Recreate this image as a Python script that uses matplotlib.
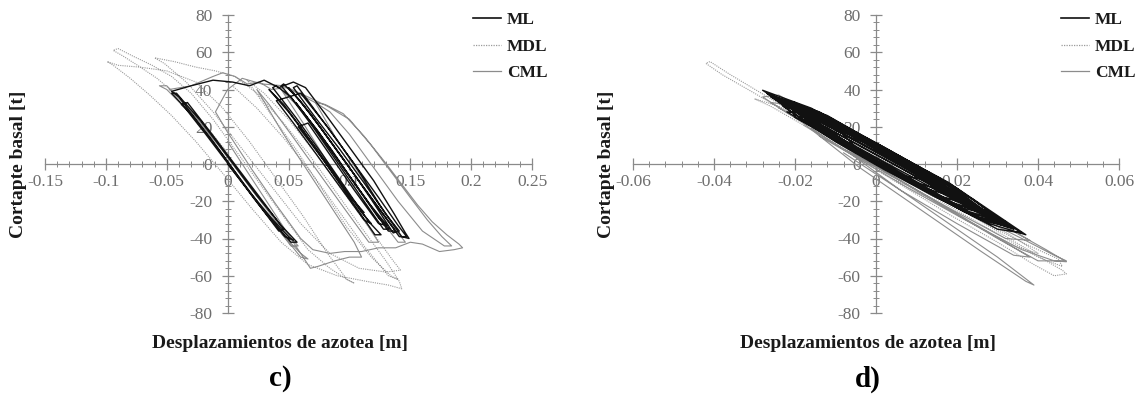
import numpy as np
import matplotlib
matplotlib.use("Agg")
import matplotlib.pyplot as plt
from matplotlib.ticker import MultipleLocator, FuncFormatter
from matplotlib.lines import Line2D

plt.rcParams['font.family'] = ['Liberation Serif', 'DejaVu Serif']
plt.rcParams['axes.unicode_minus'] = False

# ── Panel c) : top displacement [m] vs base shear [t] ─────────────────────────
ML_C = [
    (0.000, 0), (0.018, -15), (0.036, -29), (0.050, -39), (0.054, -41),
    (0.047, -39), (0.026, -22), (0.004, -3), (-0.018, 16), (-0.036, 31), (-0.046, 38),
    (-0.042, 38), (-0.022, 23), (0.000, 4), (0.024, -17), (0.044, -33), (0.057, -42),
    (0.052, -42), (0.032, -27), (0.010, -8), (-0.012, 12), (-0.030, 27), (-0.038, 32),
    (-0.033, 33), (-0.014, 17), (0.008, -2), (0.030, -21), (0.046, -35),
    (0.042, -36), (0.020, -17), (-0.004, 5), (-0.024, 22), (-0.040, 36), (-0.046, 39),
    (-0.030, 42), (-0.012, 45), (0.004, 44), (0.018, 42), (0.030, 45), (0.042, 41),
    (0.054, 44), (0.064, 41),
    (0.080, 27), (0.100, 9), (0.120, -9), (0.137, -27), (0.146, -37), (0.149, -40),
    (0.143, -39), (0.125, -22), (0.104, 0), (0.084, 18), (0.066, 34), (0.057, 42),
    (0.054, 41), (0.072, 25), (0.092, 8), (0.113, -11), (0.130, -27), (0.141, -36),
    (0.136, -37), (0.118, -19), (0.097, 1), (0.077, 19), (0.058, 35), (0.046, 43),
    (0.044, 42), (0.063, 27), (0.085, 8), (0.106, -12), (0.124, -29), (0.133, -35),
    (0.128, -35), (0.110, -18), (0.090, 1), (0.070, 20), (0.052, 36), (0.040, 42),
    (0.037, 41), (0.056, 25), (0.078, 5), (0.098, -14), (0.116, -31), (0.126, -38),
    (0.121, -38), (0.102, -20), (0.082, -1), (0.062, 18), (0.046, 32), (0.034, 40),
    (0.050, 28), (0.072, 9), (0.094, -11), (0.110, -26), (0.118, -32),
    (0.112, -30), (0.092, -12), (0.072, 6), (0.054, 22), (0.040, 34),
    (0.060, 38), (0.082, 20), (0.104, 0), (0.124, -18), (0.140, -33), (0.147, -39),
    (0.141, -39), (0.121, -21), (0.100, -2), (0.079, 17), (0.062, 32), (0.050, 41),
    (0.068, 27), (0.090, 7), (0.110, -11), (0.128, -27), (0.138, -36),
    (0.132, -36), (0.114, -19), (0.093, 0), (0.072, 19), (0.056, 33),
    (0.075, 17), (0.096, -3), (0.116, -21), (0.131, -33),
    (0.124, -32), (0.104, -14), (0.084, 5), (0.066, 22),
    (0.058, 20), (0.080, 1), (0.100, -17), (0.112, -26),
]

CML_C = [
    (0.000, 0), (0.022, -19), (0.044, -37), (0.060, -48), (0.066, -51),
    (0.060, -50), (0.038, -32), (0.014, -11), (-0.010, 10), (-0.032, 28), (-0.050, 40), (-0.056, 42),
    (-0.050, 42), (-0.028, 27), (-0.004, 7), (0.020, -14), (0.040, -31), (0.058, -44),
    (0.052, -44), (0.030, -25), (0.006, -4), (-0.018, 18), (-0.040, 36), (-0.048, 40),
    (-0.030, 42), (-0.012, 47), (-0.004, 49), (0.006, 47), (0.016, 43), (0.026, 44),
    (0.036, 40), (0.048, 41), (0.060, 37), (0.072, 33), (0.080, 32),
    (0.095, 27), (0.112, 15), (0.128, 2), (0.142, -10), (0.156, -22), (0.168, -31),
    (0.180, -38), (0.190, -43), (0.193, -45),
    (0.186, -46), (0.174, -47), (0.160, -43), (0.150, -42), (0.138, -45), (0.124, -45),
    (0.110, -47), (0.096, -47), (0.084, -48), (0.070, -46),
    (0.060, -40), (0.040, -22), (0.020, -3), (0.000, 17), (-0.010, 28),
    (0.000, 40), (0.012, 46), (0.028, 43), (0.046, 42), (0.066, 36), (0.082, 31),
    (0.100, 24), (0.118, 10), (0.134, -4), (0.150, -18), (0.164, -30), (0.176, -39), (0.184, -44),
    (0.178, -44), (0.160, -36), (0.140, -20), (0.120, -2), (0.100, 16), (0.084, 28), (0.072, 33),
    (0.088, 15), (0.108, -5), (0.126, -23), (0.140, -37), (0.146, -42),
    (0.140, -42), (0.120, -25), (0.098, -5), (0.076, 15), (0.056, 32), (0.044, 40),
    (0.062, 22), (0.082, 1), (0.100, -18), (0.114, -32), (0.124, -42),
    (0.116, -42), (0.096, -24), (0.074, -4), (0.052, 16), (0.034, 32), (0.024, 40),
    (0.044, 18), (0.066, -4), (0.088, -26), (0.104, -42), (0.110, -50),
    (0.100, -50), (0.088, -52), (0.074, -55), (0.068, -56),
    (0.060, -48), (0.040, -28), (0.018, -6), (0.000, 12),
]

MDL_C = [
    (0.000, 6), (-0.020, 22), (-0.040, 36), (-0.058, 46), (-0.074, 53), (-0.086, 58),
    (-0.094, 61), (-0.090, 62),
    (-0.078, 58), (-0.062, 53), (-0.046, 47), (-0.030, 38), (-0.012, 24), (0.008, 6),
    (0.028, -12), (0.048, -30), (0.066, -46), (0.084, -56), (0.098, -62), (0.104, -64),
    (0.098, -62), (0.082, -48), (0.062, -28), (0.040, -8), (0.018, 12), (-0.004, 30),
    (-0.026, 44), (-0.050, 50), (-0.072, 52), (-0.090, 53), (-0.099, 55),
    (-0.094, 53), (-0.080, 46), (-0.064, 37), (-0.046, 26), (-0.026, 12), (-0.004, -5),
    (0.020, -24), (0.044, -42), (0.066, -54), (0.090, -60), (0.114, -63), (0.132, -65), (0.143, -67),
    (0.141, -63), (0.130, -52), (0.112, -36), (0.090, -16), (0.068, 4), (0.046, 22),
    (0.024, 38), (0.006, 47), (-0.010, 50), (-0.026, 52), (-0.044, 55), (-0.060, 57),
    (-0.052, 54), (-0.034, 44), (-0.012, 28), (0.012, 8), (0.036, -12), (0.060, -32),
    (0.084, -48), (0.108, -56), (0.130, -58), (0.142, -57),
    (0.136, -52), (0.116, -34), (0.094, -14), (0.072, 6), (0.050, 24), (0.030, 38), (0.016, 45),
    (0.034, 28), (0.056, 8), (0.078, -14), (0.098, -34), (0.118, -50), (0.134, -60), (0.140, -62),
    (0.132, -60), (0.112, -44), (0.090, -24), (0.068, -4), (0.046, 14), (0.024, 30), (0.004, 42),
]

# ── Panel d) ──────────────────────────────────────────────────────────────────
ML_D = [
    (-0.010, 18), (-0.003, 14), (0.005, 4), (0.012, -8.4), (0.006, -6), (-0.002, 4),
    (-0.018, 27.6), (-0.008, 20), (0.004, 6), (0.014, -6), (0.020, -18), (0.012, -13),
    (0.002, -1), (-0.010, 13),
    (-0.024, 34.8), (-0.012, 25), (0.002, 9), (0.016, -8), (0.028, -27.6), (0.018, -20),
    (0.004, -4), (-0.010, 14),
    (-0.028, 39.6), (-0.016, 30), (0.000, 11), (0.018, -10), (0.034, -34.8), (0.024, -28),
    (0.008, -8), (-0.008, 11), (-0.020, 25),
    (-0.021, 31.5), (-0.010, 22), (0.004, 5), (0.018, -11), (0.030, -30), (0.022, -25),
    (0.008, -9), (-0.006, 8), (-0.015, 20),
    (-0.014, 23), (-0.004, 14), (0.008, -1), (0.022, -20), (0.016, -18), (0.004, -3), (-0.008, 12),
    (-0.026, 37), (-0.014, 28), (0.002, 9), (0.020, -13), (0.037, -38), (0.028, -32),
    (0.012, -12), (-0.004, 8), (-0.016, 22),
    (-0.022, 32.5), (-0.010, 23), (0.006, 3), (0.026, -25), (0.018, -21), (0.004, -4), (-0.012, 16),
    (-0.016, 25.5), (-0.006, 17), (0.010, -2), (0.024, -19), (0.032, -32.5), (0.024, -28),
    (0.010, -11), (-0.004, 7),
    (-0.008, 15.5), (0.002, 8), (0.012, -5), (0.018, -15.5), (0.010, -10), (0.000, 2),
    (-0.025, 36), (-0.012, 26), (0.004, 6), (0.016, -8), (0.024, -22.8), (0.014, -16),
    (0.000, 1), (-0.012, 17),
    (-0.012, 20.4), (0.000, 10), (0.014, -7), (0.030, -30), (0.022, -26), (0.006, -7),
    (-0.006, 9), (-0.018, 24),
    (-0.020, 30), (-0.010, 21), (0.002, 7), (0.014, -8), (0.026, -24), (0.033, -34),
    (0.026, -30), (0.014, -17), (0.002, -3), (-0.010, 12), (-0.019, 25),
    (-0.027, 38), (-0.018, 30), (-0.006, 16), (0.006, 1), (0.018, -14), (0.030, -29),
    (0.036, -37), (0.030, -35), (0.018, -21), (0.006, -6), (-0.006, 9), (-0.018, 24), (-0.023, 31),
    (-0.015, 26), (-0.004, 13), (0.008, -2), (0.020, -17), (0.031, -31), (0.024, -28),
    (0.012, -14), (0.000, 0), (-0.012, 15), (-0.022, 28),
    (-0.017, 27), (-0.006, 15), (0.006, 0), (0.018, -15), (0.028, -27), (0.020, -23),
    (0.008, -8), (-0.004, 6), (-0.014, 19),
    (-0.022, 32), (-0.011, 19.5), (0.000, 6.5), (0.011, -7), (0.022, -20.5), (0.030, -29.5),
    (0.022, -21.5), (0.011, -8), (0.000, 5), (-0.011, 18), (-0.022, 31),
    (-0.026, 37.5), (-0.016, 25), (-0.005, 12.5), (0.006, -0.5), (0.016, -13.5),
    (0.026, -25.5), (0.034, -35), (0.026, -26.5), (0.016, -14.5), (0.006, -2),
    (-0.005, 11), (-0.016, 24), (-0.026, 36),
    (-0.019, 29.5), (-0.008, 16), (0.003, 3), (0.014, -10), (0.025, -23), (0.032, -31),
    (0.025, -26), (0.014, -13), (0.003, 0), (-0.008, 13), (-0.019, 27),
    (-0.024, 35), (-0.020, 33), (-0.010, 22), (0.000, 9),
]

CML_D = [
    (0.000, 3), (0.012, -12), (0.024, -27), (0.036, -40), (0.044, -49), (0.047, -52),
    (0.040, -52), (0.030, -40), (0.016, -22), (0.002, -4), (-0.010, 12), (-0.020, 25), (-0.026, 33),
    (-0.022, 32), (-0.010, 18), (0.004, 1), (0.018, -17), (0.030, -31), (0.038, -41),
    (0.032, -40), (0.020, -26), (0.006, -9), (-0.008, 8), (-0.016, 19),
    (-0.006, 5), (0.006, -14), (0.018, -32), (0.030, -50), (0.039, -65),
    (0.037, -63), (0.026, -47), (0.014, -29), (0.002, -11), (-0.004, -2),
    (-0.018, 22), (-0.028, 36), (-0.024, 37), (-0.012, 22), (0.002, 4), (0.016, -14),
    (0.028, -29), (0.042, -46), (0.047, -52.5),
    (0.044, -52), (0.036, -46), (0.022, -30), (0.008, -13), (-0.006, 5), (-0.014, 15),
    (0.000, -1), (0.014, -19), (0.028, -37), (0.038, -50), (0.034, -49), (0.020, -32),
    (0.006, -14), (-0.008, 6),
]

MDL_D = [
    (-0.002, 3), (-0.010, 13), (-0.020, 25), (-0.030, 38), (-0.038, 48), (-0.042, 54),
    (-0.041, 55), (-0.036, 48), (-0.026, 35), (-0.014, 19), (0.000, 1), (0.014, -16),
    (0.026, -31), (0.036, -44), (0.042, -52), (0.046, -57), (0.047, -59), (0.044, -60),
    (0.039, -54), (0.030, -42), (0.018, -27), (0.006, -11), (-0.006, 5), (-0.018, 21),
    (-0.026, 31), (-0.030, 35),
    (-0.024, 31), (-0.012, 16), (0.002, -2), (0.016, -20), (0.028, -35), (0.040, -50),
    (0.046, -55), (0.045, -51), (0.036, -42), (0.022, -26), (0.008, -9), (-0.006, 8),
    (-0.020, 25), (-0.024, 30),
    (-0.016, 24), (-0.004, 9), (0.010, -8), (0.024, -26), (0.036, -42), (0.040, -48),
    (0.034, -44), (0.020, -27), (0.006, -10), (-0.008, 8), (-0.018, 21),
]

SERIES = ["ML", "MDL", "CML"]
X_LABEL = "Desplazamientos de azotea [m]"
Y_LABEL = "Cortapte basal [t]"

STYLE = {
    "ML":  dict(color='#111111', lw=1.0, ls='-'),
    "MDL": dict(color='#9a9a9a', lw=0.8, ls=(0, (1, 1))),
    "CML": dict(color='#8c8c8c', lw=0.8, ls='-'),
}
AXIS_COL = '#8a8a8a'
TICK_COL = '#6e6e6e'
TEXT_COL = '#1a1a1a'

W, H = 1143, 395
fig = plt.figure(figsize=(W / 100, H / 100), dpi=100)


def fmt(v, pos):
    return '%g' % round(v, 4)


def make_panel(left_px, right_px, xlim, xmajor, xminor, data, letter):
    wpx = right_px - left_px
    ax = fig.add_axes([left_px / W, 1 - 313 / H, wpx / W, 298 / H])
    # dotted first, then CML, then ML on top
    for name in ["MDL", "CML", "ML"]:
        pts = np.array(data[name])
        ax.plot(pts[:, 0], pts[:, 1], zorder=3, solid_joinstyle='round', **STYLE[name])

    ax.set_xlim(xlim)
    ax.set_ylim(-80, 80)
    for s in ['top', 'right']:
        ax.spines[s].set_visible(False)
    ax.spines['left'].set_position(('data', 0))
    ax.spines['bottom'].set_position(('data', 0))
    for s in ['left', 'bottom']:
        ax.spines[s].set_color(AXIS_COL)
        ax.spines[s].set_linewidth(0.9)

    ax.xaxis.set_major_locator(MultipleLocator(xmajor))
    ax.xaxis.set_minor_locator(MultipleLocator(xminor))
    ax.yaxis.set_major_locator(MultipleLocator(20))
    ax.yaxis.set_minor_locator(MultipleLocator(4))
    ax.xaxis.set_major_formatter(FuncFormatter(fmt))
    ax.yaxis.set_major_formatter(FuncFormatter(fmt))
    ax.tick_params(which='major', direction='inout', length=8, width=0.9,
                   color=AXIS_COL, labelcolor=TICK_COL, labelsize=12.5)
    ax.tick_params(which='minor', direction='inout', length=4, width=0.7, color=AXIS_COL)
    ax.tick_params(axis='x', pad=3)
    ax.tick_params(axis='y', pad=7)
    ax.patch.set_alpha(0)

    ax.set_ylabel(Y_LABEL, fontsize=14, fontweight='bold', color=TEXT_COL)
    ax.yaxis.set_label_coords(-18 / wpx, 0.5)

    handles = [Line2D([], [], **dict(STYLE[n], lw=1.2 if n == "ML" else 0.9)) for n in SERIES]
    leg = ax.legend(handles, SERIES, loc='upper left',
                    bbox_to_anchor=(428 / wpx, 1.01),
                    frameon=False, borderpad=0, borderaxespad=0,
                    handlelength=1.6, handletextpad=0.35,
                    labelspacing=0.6, prop=dict(weight='bold', size=12.5))
    for t in leg.get_texts():
        t.set_color(TEXT_COL)

    cx = (left_px + right_px) / 2 - 8
    fig.text(cx / W, 1 - 343 / H, X_LABEL, ha='center', va='center',
             fontsize=14, fontweight='bold', color=TEXT_COL)
    fig.text(cx / W, 1 - 379 / H, letter, ha='center', va='center',
             fontsize=21, fontweight='bold', color='black')
    return ax


make_panel(45, 532, (-0.15, 0.25), 0.05, 0.01,
           {"ML": ML_C, "MDL": MDL_C, "CML": CML_C}, "c)")
make_panel(633, 1119, (-0.06, 0.06), 0.02, 0.004,
           {"ML": ML_D, "MDL": MDL_D, "CML": CML_D}, "d)")

fig.savefig("out.png", dpi=100)
